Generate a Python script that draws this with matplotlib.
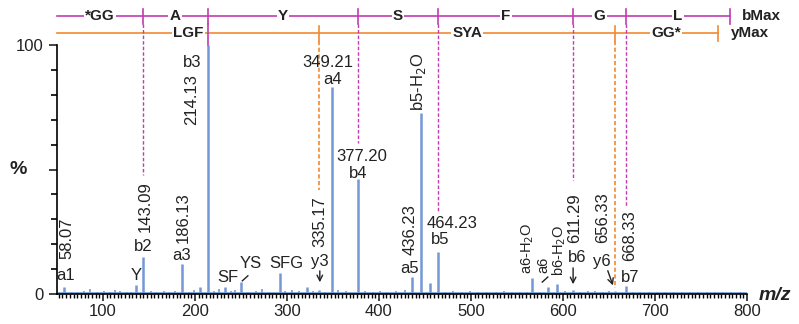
import matplotlib
matplotlib.use("Agg")
import matplotlib.pyplot as plt
from matplotlib.ticker import MultipleLocator

plt.rcParams['font.family'] = ['Liberation Sans', 'DejaVu Sans']

# main (labelled) peaks: m/z and relative intensity (%)
peak_mz = [58.07, 136.0, 143.09, 186.13, 206.0, 214.13, 233.0, 250.0, 292.0, 322.0,
           335.17, 349.21, 377.20, 436.23, 446.2, 455.0, 464.23, 566.0, 584.0, 593.0,
           611.29, 656.33, 668.33]
peak_int = [3.0, 3.6, 15.0, 12.0, 3.0, 100.0, 3.0, 5.0, 8.5, 3.0,
            1.8, 83.0, 46.0, 7.0, 72.7, 4.5, 17.0, 6.4, 3.0, 4.0,
            1.5, 1.2, 3.2]

# small background peaks (estimated)
noise_mz = [66, 72, 79, 86, 93, 101, 108, 113, 119, 126, 131, 152, 158, 166, 172, 178,
            193, 199, 221, 226, 239, 244, 258, 266, 273, 281, 298, 305, 313, 328, 341,
            356, 364, 385, 393, 401, 409, 418, 428, 472, 481, 490, 499, 508, 517, 527,
            536, 545, 553, 561, 575, 602, 618, 627, 635, 643, 650, 676, 684, 693, 702,
            711, 720, 729, 738, 747, 756, 765, 774, 783, 792]
noise_int = [1.0, 0.8, 1.2, 2.0, 0.9, 1.1, 0.7, 1.6, 1.3, 0.8, 1.0, 1.2, 0.9, 1.4, 0.8, 1.1,
             1.0, 1.5, 1.3, 2.0, 1.2, 1.8, 0.9, 1.4, 2.0, 1.0, 1.1, 1.6, 1.2, 1.4, 1.0,
             1.6, 1.2, 1.3, 0.9, 1.1, 0.8, 1.2, 1.5, 1.0, 1.2, 0.8, 1.1, 0.9, 1.0, 0.8,
             1.1, 0.9, 1.0, 0.8, 1.0, 1.3, 0.9, 1.1, 1.2, 1.0, 1.2, 0.9, 1.0, 0.8, 0.9,
             1.0, 0.8, 0.9, 0.8, 1.0, 0.8, 0.9, 0.8, 0.9, 0.8]

# fragment ladders
b_breaks = [143.09, 214.13, 377.20, 464.23, 611.29, 668.33]
b_dash_end = [47.8, 100.0, 60.6, 33.0, 45.8, 35.0]
b_residues = ['*GG', 'A', 'Y', 'S', 'F', 'G', 'L']
b_max = 781
y_breaks = [335.17, 656.33]
y_dash_end = [41.8, 2.4]
y_residues = ['LGF', 'SYA', 'GG*']
y_max = 768
ladder_start = 50

# peak annotations: text, x, y, rotation
labels = [
    ('58.07', 60.7, 22.5, 90), ('a1', 59.6, 7.6, 0),
    ('Y', 135.7, 7.6, 0),
    ('143.09', 145.5, 35, 90), ('b2', 143.3, 18.9, 0),
    ('186.13', 186.8, 30.5, 90), ('a3', 185.7, 15.3, 0),
    ('214.13', 196.6, 78, 90), ('b3', 196.6, 93, 0),
    ('SF', 235.7, 6.8, 0), ('YS', 260.7, 12.4, 0), ('SFG', 298.8, 12.4, 0),
    ('335.17', 335.7, 28.9, 90), ('y3', 335.7, 12.9, 0),
    ('349.21', 344.4, 92.8, 0), ('a4', 349.9, 86, 0),
    ('377.20', 381.4, 55.4, 0), ('b4', 377.0, 48.2, 0),
    ('436.23', 433.6, 25.7, 90), ('a5', 433.6, 10.4, 0),
    ('b5-H$_2$O', 443.5, 85.1, 90),
    ('464.23', 479.2, 28.5, 0), ('b5', 466.2, 21.7, 0),
    ('a6-H$_2$O', 562.0, 18.5, 90), ('a6', 579.0, 11.6, 90),
    ('b6-H$_2$O', 595.5, 17.7, 90),
    ('611.29', 613.0, 30.5, 90), ('b6', 615.0, 14.5, 0),
    ('656.33', 643.0, 30.5, 90), ('y6', 642.0, 12.9, 0),
    ('668.33', 672.7, 23.3, 90), ('b7', 672.7, 6.8, 0),
]
tight = {'a6-H$_2$O', 'a6', 'b6-H$_2$O'}

peak_col = '#7398d6'
b_col = '#c03cb0'
y_col = '#f28a30'
txt_col = '#222222'

fig = plt.figure(figsize=(7.99, 3.24), dpi=100)
ax = fig.add_axes([0.0713, 0.0926, 0.8636, 0.7685])

ax.plot([ladder_start, 800], [0.4, 0.4], color=peak_col, lw=1.2)
ax.vlines(noise_mz, 0, noise_int, color=peak_col, lw=1.2)
ax.vlines(peak_mz, 0, peak_int, color=peak_col, lw=1.8)

ax.set_xlim(50, 800)
ax.set_ylim(0, 100)
for s in ['top', 'right']:
    ax.spines[s].set_visible(False)
ax.spines['left'].set_linewidth(1.2)
ax.spines['bottom'].set_linewidth(1.2)

ax.set_yticks([0, 50, 100])
ax.set_yticklabels(['0', '', '100'])
ax.yaxis.set_minor_locator(MultipleLocator(10))
ax.tick_params(axis='y', which='major', length=6, width=1.2, labelsize=12, colors=txt_col)
ax.tick_params(axis='y', which='minor', length=4, width=1.2)

ax.set_xticks([100, 200, 300, 400, 500, 600, 700, 800])
ax.xaxis.set_minor_locator(MultipleLocator(4))
ax.tick_params(axis='x', which='major', length=5, width=1.2, labelsize=12, colors=txt_col, pad=2)
ax.tick_params(axis='x', which='minor', length=3, width=1.0)

fig.text(18 / 799, 1 - 170 / 324, '%', fontsize=14, fontweight='bold', ha='center', va='center', color=txt_col)
fig.text(775 / 799, 1 - 295 / 324, 'm/z', fontsize=14, fontweight='bold', style='italic', ha='center', va='center', color=txt_col)

# ladders
yb, yy = 111.6, 104.8
ax.plot([ladder_start, b_max], [yb, yb], color=b_col, lw=1.2, clip_on=False)
ax.plot([b_max, b_max], [yb - 3, yb + 3], color=b_col, lw=1.2, clip_on=False)
ax.plot([ladder_start, y_max], [yy, yy], color=y_col, lw=1.2, clip_on=False)
ax.plot([y_max, y_max], [yy - 3, yy + 3], color=y_col, lw=1.2, clip_on=False)
for xb, ye in zip(b_breaks, b_dash_end):
    ax.plot([xb, xb], [yb + 3, yb - 3], color=b_col, lw=1.2, clip_on=False)
    if ye >= 99:
        ax.plot([xb, xb], [yb - 3, ye], color=b_col, lw=1.2, clip_on=False)
    else:
        ax.plot([xb, xb], [yb - 3, ye], color=b_col, lw=1.0, ls=(0, (2.5, 1.5)), clip_on=False)
for xb, ye in zip(y_breaks, y_dash_end):
    ax.plot([xb, xb], [yy + 3, yy - 3], color=y_col, lw=1.2, clip_on=False)
    ax.plot([xb, xb], [yy - 3, ye], color=y_col, lw=1.2, ls=(0, (2.5, 1.5)), clip_on=False)

b_edges = [ladder_start] + b_breaks + [b_max]
for i, r in enumerate(b_residues):
    xm = (b_edges[i] + b_edges[i + 1]) / 2
    ax.text(xm, yb, r, ha='center', va='center', fontsize=11, fontweight='bold', color=txt_col,
            bbox=dict(facecolor='white', edgecolor='none', pad=1), clip_on=False)
y_edges = [ladder_start] + y_breaks + [y_max]
for i, r in enumerate(y_residues):
    xm = (y_edges[i] + y_edges[i + 1]) / 2
    ax.text(xm, yy, r, ha='center', va='center', fontsize=11, fontweight='bold', color=txt_col,
            bbox=dict(facecolor='white', edgecolor='none', pad=1), clip_on=False)
ax.text(b_max + 13, yb, 'bMax', ha='left', va='center', fontsize=11, fontweight='bold', color=txt_col, clip_on=False)
ax.text(y_max + 14, yy, 'yMax', ha='left', va='center', fontsize=11, fontweight='bold', color=txt_col, clip_on=False)

for t, x, y, r in labels:
    fs = 10.5 if t in tight else 12
    ax.text(x, y, t, ha='center', va='center', rotation=r, fontsize=fs, color=txt_col)

# arrows and leaders
arr = dict(arrowstyle='->', color=txt_col, lw=1.0)
ax.annotate('', xy=(335.7, 3.6), xytext=(335.7, 10.4), arrowprops=arr)
ax.annotate('', xy=(611.0, 2.8), xytext=(611.0, 11.6), arrowprops=arr)
ax.annotate('', xy=(655.3, 2.4), xytext=(647.7, 10.4), arrowprops=arr)
ax.plot([251.5, 257.5], [5.3, 7.3], color=txt_col, lw=1.0)
ax.plot([577.5, 583.5], [4.8, 6.8], color=txt_col, lw=1.0)

fig.savefig('out.png', dpi=100)
